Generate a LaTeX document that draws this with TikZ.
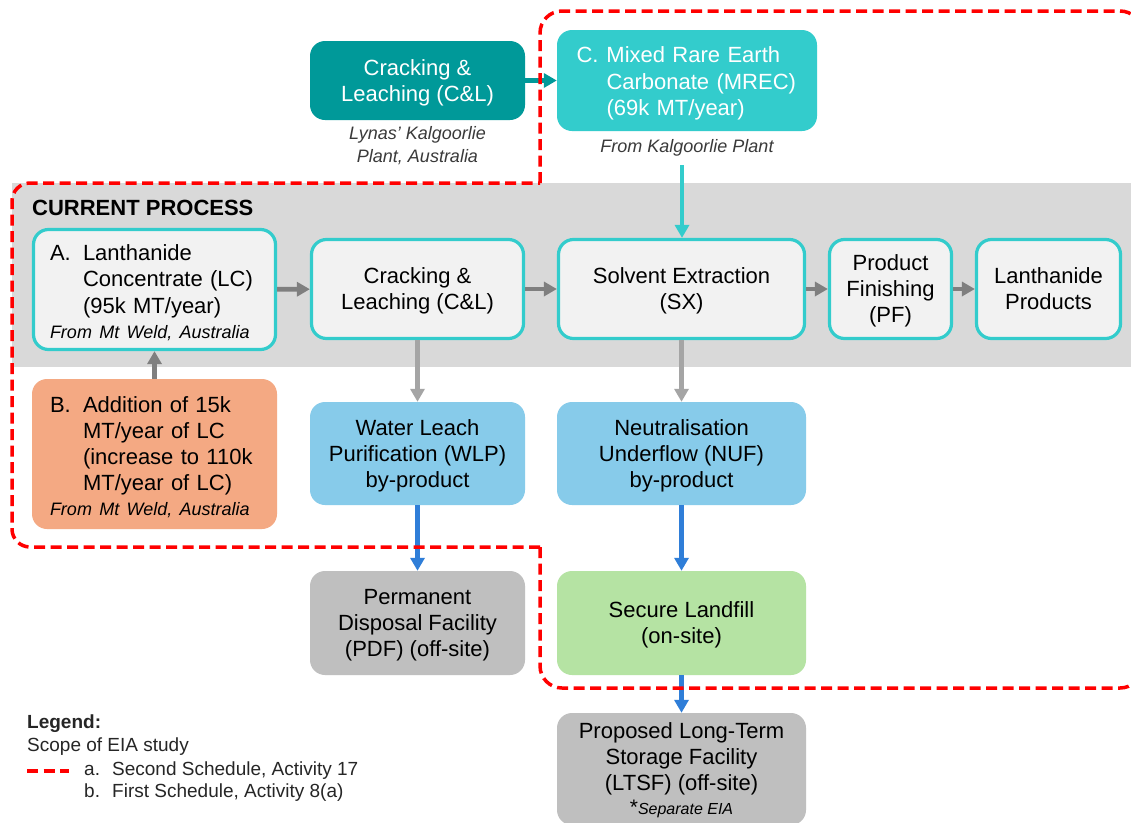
\documentclass[tikz,border=0pt]{standalone}
\usepackage{fontspec}
\setmainfont{Liberation Sans}
\usetikzlibrary{arrows.meta}
\definecolor{band}{HTML}{D9D9D9}
\definecolor{boxfill}{HTML}{F2F2F2}
\definecolor{turq}{HTML}{33CCCC}
\definecolor{tealdk}{HTML}{009999}
\definecolor{salmon}{HTML}{F4A983}
\definecolor{sky}{HTML}{87CBEA}
\definecolor{lgreen}{HTML}{B5E3A3}
\definecolor{gbox}{HTML}{BFBFBF}
\definecolor{arrgray}{HTML}{7F7F7F}
\definecolor{arrlgray}{HTML}{A5A5A5}
\definecolor{arrblue}{HTML}{2F7ED8}
\definecolor{notegray}{HTML}{3A3A3A}
\definecolor{eiared}{HTML}{FF0000}
\newcommand\fmain{\fontsize{22}{26}\selectfont}
\newcommand\fnote{\fontsize{18}{23}\selectfont\itshape}
\newcommand\flegend{\fontsize{19}{23}\selectfont}
\newcommand\topstrut{\rule{0pt}{22pt}}
\begin{document}
\begin{tikzpicture}[x=1pt,y=-1pt,
  box/.style={rounded corners=15pt, align=center, inner sep=0pt, font=\fmain, text=black},
  ctr/.style={text depth=0pt},
  cur/.style={box, ctr, fill=boxfill, draw=turq, line width=3.2pt},
  note/.style={align=center, inner sep=0pt, font=\fnote, text=notegray},
  arr/.style={line width=4.6pt, -{Triangle[length=13pt,width=14pt]}},
  garrow/.style={arr, draw=arrgray},
  larrow/.style={arr, draw=arrlgray},
  barrow/.style={arr, draw=arrblue},
  eia/.style={draw=eiared, line width=3.5pt, dash pattern=on 11pt off 5.5pt}]
\useasboundingbox (0,0) rectangle (1131,822);
\fill[white] (0,0) rectangle (1131,822);
% current process band
\fill[band] (12,183) rectangle (1131,367);
\node[anchor=west, inner sep=0pt, font=\fontsize{22}{26}\selectfont\bfseries] (cp) at (32,208) {CURRENT PROCESS};

% top row
\node[box, ctr, fill=tealdk, text=white, minimum width=215pt, minimum height=79pt] (tcl) at (417.5,80.5) {Cracking \&\\Leaching (C\&L)};
\node[note] (tclnote) at (417.5,145.5) {Lynas' Kalgoorlie\\Plant, Australia};
\node[box, fill=turq, text=white, minimum width=260pt, minimum height=101pt, text width=221pt, align=left] (mrec) at (687,80.5)
  {\topstrut\makebox[30pt][l]{C.}Mixed Rare Earth\\[0.5pt]\hspace*{30pt}Carbonate (MREC)\\[0.5pt]\hspace*{30pt}(69k MT/year)};
\node[note] (mrecnote) at (687,148) {From Kalgoorlie Plant};
\coordinate (feed) at (682,165);

% current process boxes
\node[box, fill=boxfill, draw=turq, line width=3.2pt, minimum width=242pt, minimum height=120pt, text width=209pt, align=left] (A) at (154.5,289.5)
  {\topstrut\makebox[33pt][l]{A.}Lanthanide\\[0.5pt]\hspace*{33pt}Concentrate (LC)\\[0.5pt]\hspace*{33pt}(95k MT/year)\\[-1pt]{\fnote\color{black}From Mt Weld, Australia}};
\node[cur, minimum width=212pt, minimum height=99pt] (cl) at (417.5,289) {Cracking \&\\Leaching (C\&L)};
\node[cur, minimum width=246pt, minimum height=99pt] (sx) at (681.5,289) {Solvent Extraction\\(SX)};
\node[cur, minimum width=122pt, minimum height=99pt] (pf) at (890.5,289) {Product\\Finishing\\(PF)};
\node[cur, minimum width=144pt, minimum height=99pt] (lp) at (1048.5,289) {Lanthanide\\Products};

% lower boxes
\node[box, fill=salmon, minimum width=245pt, minimum height=150pt, text width=209pt, align=left] (B) at (154.5,454)
  {\topstrut\makebox[33pt][l]{B.}Addition of 15k\\\hspace*{33pt}MT/year of LC\\\hspace*{33pt}(increase to 110k\\\hspace*{33pt}MT/year of LC)\\[-1pt]{\fnote\color{black}From Mt Weld, Australia}};
\node[box, ctr, fill=sky, minimum width=215pt, minimum height=103pt] (wlp) at (417.5,453.5) {Water Leach\\Purification (WLP)\\by-product};
\node[box, ctr, fill=sky, minimum width=249pt, minimum height=103pt] (nuf) at (681.5,453.5) {Neutralisation\\Underflow (NUF)\\by-product};
\node[box, ctr, fill=gbox, minimum width=215pt, minimum height=104pt] (pdf) at (417.5,623) {Permanent\\Disposal Facility\\(PDF) (off-site)};
\node[box, ctr, fill=lgreen, minimum width=249pt, minimum height=104pt] (sl) at (681.5,623) {Secure Landfill\\(on-site)};
\node[box, ctr, fill=gbox, minimum width=249pt, minimum height=112pt] (ltsf) at (681.5,769)
  {Proposed Long-Term\\Storage Facility\\(LTSF) (off-site)\\[-2pt]{\fontsize{21}{22}\selectfont*}{\fontsize{16}{22}\selectfont\itshape Separate EIA}};

% connectors
\draw[arr, draw=tealdk] (tcl) -- (mrec);
\draw[arr, draw=turq, line width=3.5pt] (feed) -- (feed |- sx.north);
\draw[garrow] (A) -- (cl);
\draw[garrow] (cl) -- (sx);
\draw[garrow] (sx) -- (pf);
\draw[garrow] (pf) -- (lp);
\draw[garrow] (B) -- (A);
\draw[larrow] (cl) -- (wlp);
\draw[larrow] (sx) -- (nuf);
\draw[barrow] (wlp) -- (pdf);
\draw[barrow] (nuf) -- (sl);
\draw[barrow] (sl) -- (ltsf);

% EIA scope boundary
\draw[eia, rounded corners=22pt] (540,183) -- (540,11) -- (1142,11) -- (1142,688) -- (540,688) -- (540,547);
\draw[eia, rounded corners=18pt] (540,547) -- (12,547) -- (12,183) -- (540,183);

% legend
\node[anchor=west, inner sep=0pt, font=\flegend\bfseries, text=black!85] (lg) at (27,724) {Legend:};
\node[anchor=west, inner sep=0pt, font=\flegend, text=black!85] (lg1) at (27,747) {Scope of EIA study};
\draw[eia] (27,771) -- (69,771);
\node[anchor=west, inner sep=0pt, font=\flegend, text=black!85] (lga) at (84,771) {\makebox[28pt][l]{a.}Second Schedule, Activity 17};
\node[anchor=west, inner sep=0pt, font=\flegend, text=black!85] (lgb) at (84,793) {\makebox[28pt][l]{b.}First Schedule, Activity 8(a)};
\end{tikzpicture}
\end{document}
